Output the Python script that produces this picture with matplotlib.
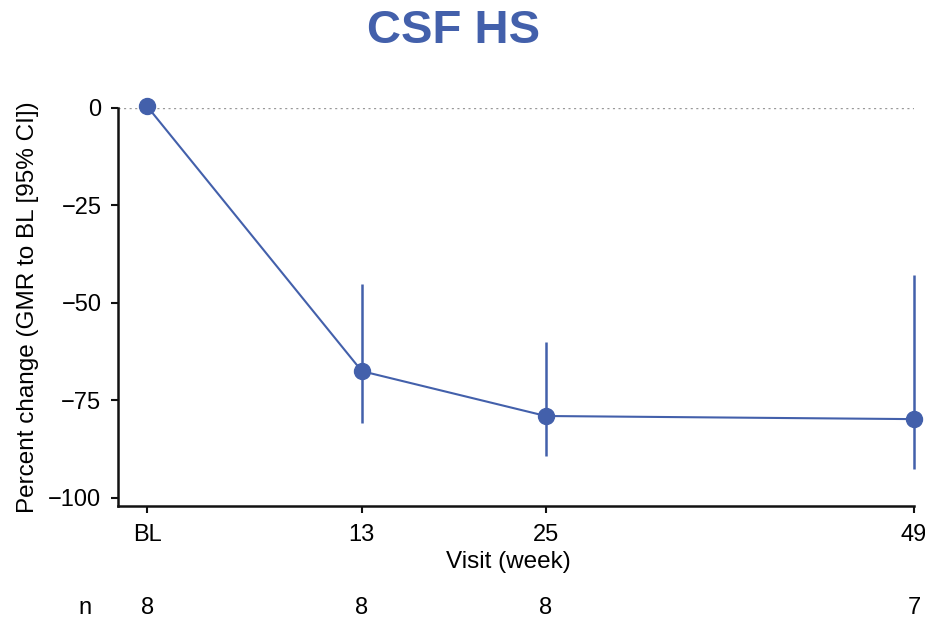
import matplotlib.pyplot as plt
from matplotlib.transforms import blended_transform_factory

plt.rcParams['font.family'] = ['Liberation Sans', 'DejaVu Sans']

# data
weeks = [-1, 13, 25, 49]
tick_labels = ['BL', '13', '25', '49']
pct = [0.4, -67.5, -79.0, -79.8]
ci_low = [0.4, -80.9, -89.2, -92.7]
ci_high = [0.4, -45.2, -60.0, -42.9]
n_counts = [8, 8, 8, 7]

blue = '#4360AB'

fig = plt.figure(figsize=(9.25, 6.24), dpi=100)
ax = fig.add_axes([0.1276, 0.1896, 0.8604, 0.6374])

ax.axhline(0, color='#999999', lw=1.0, ls=(0, (1.5, 2.5)), zorder=1)

yerr = [[p - lo for p, lo in zip(pct, ci_low)],
        [hi - p for p, hi in zip(pct, ci_high)]]
ax.errorbar(weeks, pct, yerr=yerr, color=blue, lw=1.5, elinewidth=1.8,
            marker='o', ms=11.5, capsize=0, clip_on=False, zorder=3)

ax.set_xlim(-2.9, 49)
ax.set_ylim(-102, 0)
ax.spines['top'].set_visible(False)
ax.spines['right'].set_visible(False)
ax.spines['left'].set_bounds(-102, 0)
for s in ('left', 'bottom'):
    ax.spines[s].set_linewidth(1.8)
    ax.spines[s].set_color('#111111')

ax.set_xticks(weeks)
ax.set_xticklabels(tick_labels)
ax.set_yticks([0, -25, -50, -75, -100])
ax.tick_params(axis='both', length=5, width=1.5, labelsize=17, color='#111111')
ax.tick_params(axis='x', pad=8)
ax.tick_params(axis='y', pad=7)

ax.set_xlabel('Visit (week)', fontsize=17.5)
ax.xaxis.set_label_coords(0.49, -0.115)
ax.set_ylabel('Percent change (GMR to BL [95% CI])', fontsize=17.5, labelpad=7)

fig.suptitle('CSF HS', fontsize=34, fontweight='bold', color=blue, x=0.49, y=0.985)

trans = blended_transform_factory(ax.transData, fig.transFigure)
fig.text(85 / 925, 1 - 608 / 624, 'n', fontsize=17, ha='center', va='center')
for w, n in zip(weeks, n_counts):
    ax.text(w, 1 - 608 / 624, str(n), transform=trans, fontsize=17,
            ha='center', va='center', clip_on=False)

fig.savefig('out.png', dpi=100)
